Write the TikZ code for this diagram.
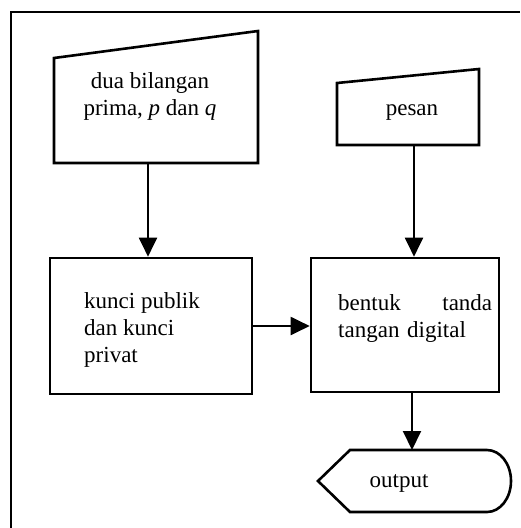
\documentclass[tikz,border=0pt]{standalone}
\usepackage{fontspec}
\setmainfont{Liberation Serif}
\usetikzlibrary{arrows.meta,positioning}

\tikzset{
  flowbox/.style={draw, line width=2.6pt, inner sep=0pt},
  flowtext/.style={font=\fontsize{23}{27}\selectfont, inner sep=0pt},
  flowarrow/.style={line width=2pt, -{Triangle[length=19pt,width=18pt]}},
}

\begin{document}
\begin{tikzpicture}[x=1pt, y=-1pt]
  \useasboundingbox (0,0) rectangle (520,528);

  % frame, cut at right and bottom
  \draw[line width=2.8pt] (11,528) -- (11,12) -- (520,12);

  % input: two primes
  \draw[flowbox] (54,58) -- (258,31) -- (258,163) -- (54,163) -- cycle;
  \coordinate (prima-s) at (148,163);
  \node[flowtext, align=center] (prima) at (150,96)
    {dua bilangan\\prima, \textit{p} dan \textit{q}};

  % input: message
  \draw[flowbox] (337,83) -- (479,69) -- (479,145) -- (337,145) -- cycle;
  \coordinate (pesan-s) at (414,145);
  \node[flowtext] (pesan) at (412,113) {pesan};

  % process boxes
  \node[flowbox, minimum width=202pt, minimum height=136pt] (kunci) at (151,326) {};
  \node[flowtext, anchor=west, align=left] (kunci-t) at (84,330)
    {kunci publik\\dan kunci\\privat};
  \node[flowbox, minimum width=188pt, minimum height=134pt] (bentuk) at (405,325) {};
  \node[flowtext, anchor=west, text width=154pt, align=left] (bentuk-t) at (338,318)
    {bentuk\hfill tanda\\tangan digital};

  % output display
  \draw[flowbox] (318,481) -- (350,450) -- (487,450)
    arc[start angle=-90, end angle=90, x radius=24, y radius=31]
    -- (350,512) -- cycle;
  \coordinate (output-n) at (412,450);
  \node[flowtext] (output) at (399,483) {output};

  % connectors
  \draw[flowarrow] (prima-s) -- (prima-s |- kunci.north);
  \draw[flowarrow] (pesan-s) -- (pesan-s |- bentuk.north);
  \draw[flowarrow] (kunci.east) -- (kunci.east -| bentuk.west);
  \draw[flowarrow] (output-n |- bentuk.south) -- (output-n);
\end{tikzpicture}
\end{document}
